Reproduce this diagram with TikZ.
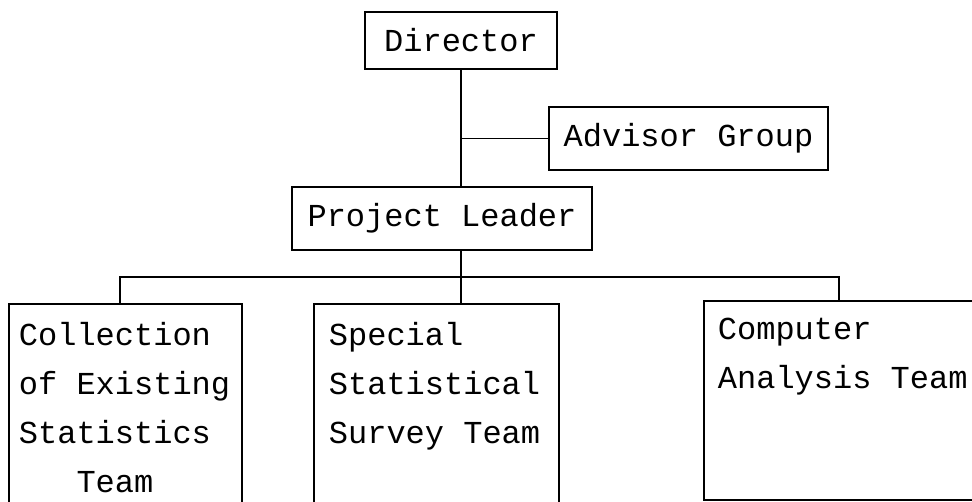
\documentclass[tikz,border=0pt]{standalone}
\usepackage{fontspec}
\setmonofont{Liberation Mono}
\usetikzlibrary{positioning,calc}

\begin{document}
\begin{tikzpicture}[x=1pt, y=-1pt,
    unit/.style={draw, line width=1.8pt, font=\ttfamily\fontsize{32}{49}\selectfont, inner sep=0pt},
    team/.style={unit, anchor=north west, inner xsep=14pt, inner ysep=18pt},
    link/.style={line width=1.8pt}]
    \path[use as bounding box, clip] (0,0) rectangle (972,501);

    \node[unit, minimum width=192pt, minimum height=57pt] (dir) at (461,40.5) {Director};
    \node[unit, minimum width=279pt, minimum height=63pt] (adv) at (688.5,138.5) {Advisor Group};
    \node[unit, minimum width=300pt, minimum height=63pt] (lead) at (442,218.5) {Project Leader};

    \node[team, inner xsep=10pt] (coll) at (8,303) {\begin{minipage}[t][176pt][t]{213pt}Collection\\of Existing\\Statistics\\\phantom{Sta}Team\end{minipage}};
    \node[team, inner xsep=15pt] (spec) at (313,303) {\begin{minipage}[t][176pt][t]{215pt}Special\\Statistical\\Survey Team\end{minipage}};
    \node[team, inner ysep=17pt] (comp) at (703,300) {\begin{minipage}[t][165pt][t]{272pt}Computer\\Analysis Team\end{minipage}};

    \coordinate (bus) at ($(lead.south -| dir.south)+(0,26)$);
    \draw[link] (dir.south) -- (lead.north -| dir.south);
    \draw[link] (adv.west) -- (adv.west -| dir.south);
    \draw[link] (lead.south -| dir.south) -- (bus);
    \draw[link] ([xshift=112pt]coll.north west) |- (bus) -| ([xshift=136pt]comp.north west);
    \draw[link] (bus) -- (spec.north -| bus);
\end{tikzpicture}
\end{document}
